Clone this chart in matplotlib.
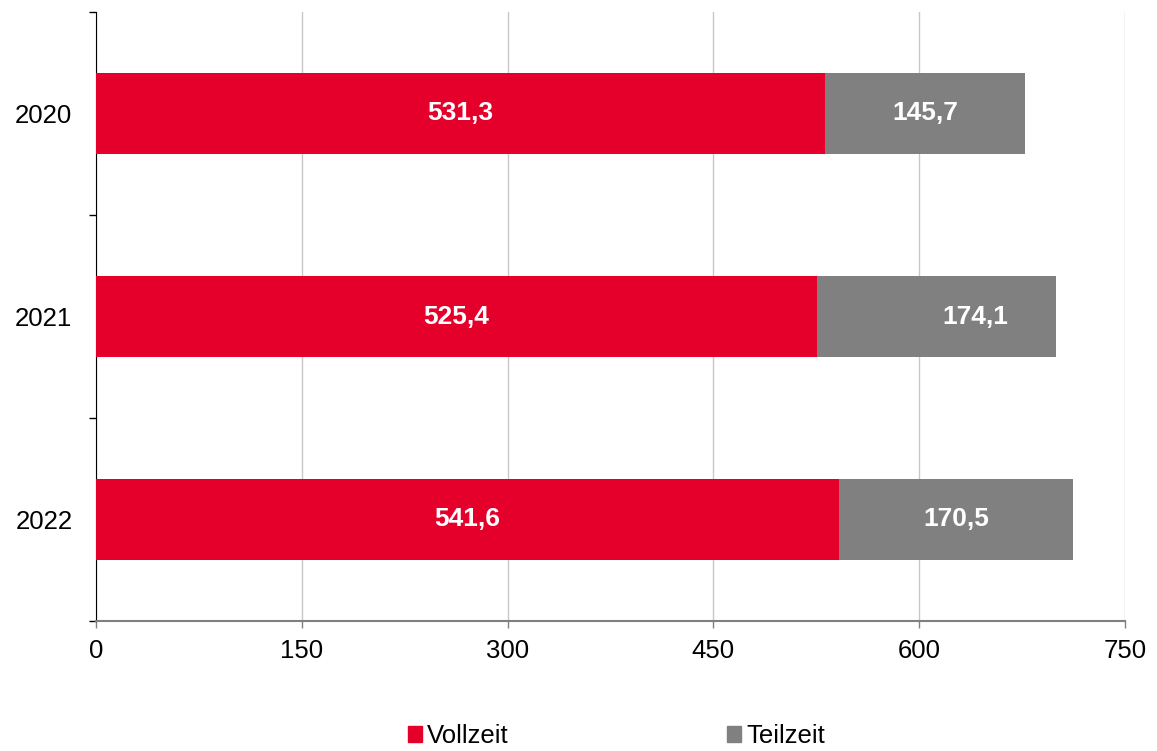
import matplotlib.pyplot as plt
from matplotlib.patches import Patch

years = ["2020", "2021", "2022"]
vollzeit = [531.3, 525.4, 541.6]
teilzeit = [145.7, 174.1, 170.5]
x_ticks = [0, 150, 300, 450, 600, 750]

RED = "#E4002B"
GRAY = "#808080"


def fmt(v):
    return f"{v:.1f}".replace(".", ",")


def main():
    plt.rcParams["font.family"] = ["Liberation Sans", "DejaVu Sans"]
    fig = plt.figure(figsize=(11.57, 7.51), dpi=100)
    ax = fig.add_axes([96 / 1157, 130 / 751, 1029 / 1157, 609 / 751])

    pos = list(range(len(years)))
    ax.barh(pos, vollzeit, height=0.4, color=RED, zorder=3)
    ax.barh(pos, teilzeit, left=vollzeit, height=0.4, color=GRAY, zorder=3)

    for i in pos:
        ax.text(vollzeit[i] / 2, i, fmt(vollzeit[i]), color="white",
                fontsize=19, fontweight="bold", ha="center", va="center", zorder=4)
        dx = 28 if i == 1 else 0
        ax.annotate(fmt(teilzeit[i]), (vollzeit[i] + teilzeit[i] / 2, i),
                    xytext=(dx, 0), textcoords="offset points", color="white",
                    fontsize=19, fontweight="bold", ha="center", va="center", zorder=4)

    ax.set_xlim(0, 750)
    ax.set_ylim(len(years) - 0.5, -0.5)
    ax.set_xticks(x_ticks)
    ax.set_xticklabels([str(t) for t in x_ticks], fontsize=18.5)
    ax.set_yticks(pos)
    ax.set_yticklabels(years, fontsize=18.5)
    ax.tick_params(axis="y", length=0, pad=17)
    ax.set_yticks([-0.5, 0.5, 1.5, 2.5], minor=True)
    ax.tick_params(axis="y", which="minor", length=5, width=1, color="black")
    ax.tick_params(axis="x", length=5, width=1, color=GRAY, pad=8)

    ax.grid(axis="x", color="#C8C8C8", linewidth=1, zorder=0)
    for s in ["top", "right"]:
        ax.spines[s].set_visible(False)
    ax.spines["bottom"].set_color(GRAY)
    ax.spines["bottom"].set_linewidth(1.5)
    ax.spines["left"].set_color("black")

    handles = [Patch(color=RED, label="Vollzeit"), Patch(color=GRAY, label="Teilzeit")]
    fig.legend(handles=handles, loc="lower center", bbox_to_anchor=(0.533, -0.027),
               ncol=2, frameon=False, fontsize=18.5, handlelength=0.55, handleheight=0.55,
               handletextpad=0.2, columnspacing=8.5)

    fig.savefig("out.png", dpi=100)


if __name__ == "__main__":
    main()
